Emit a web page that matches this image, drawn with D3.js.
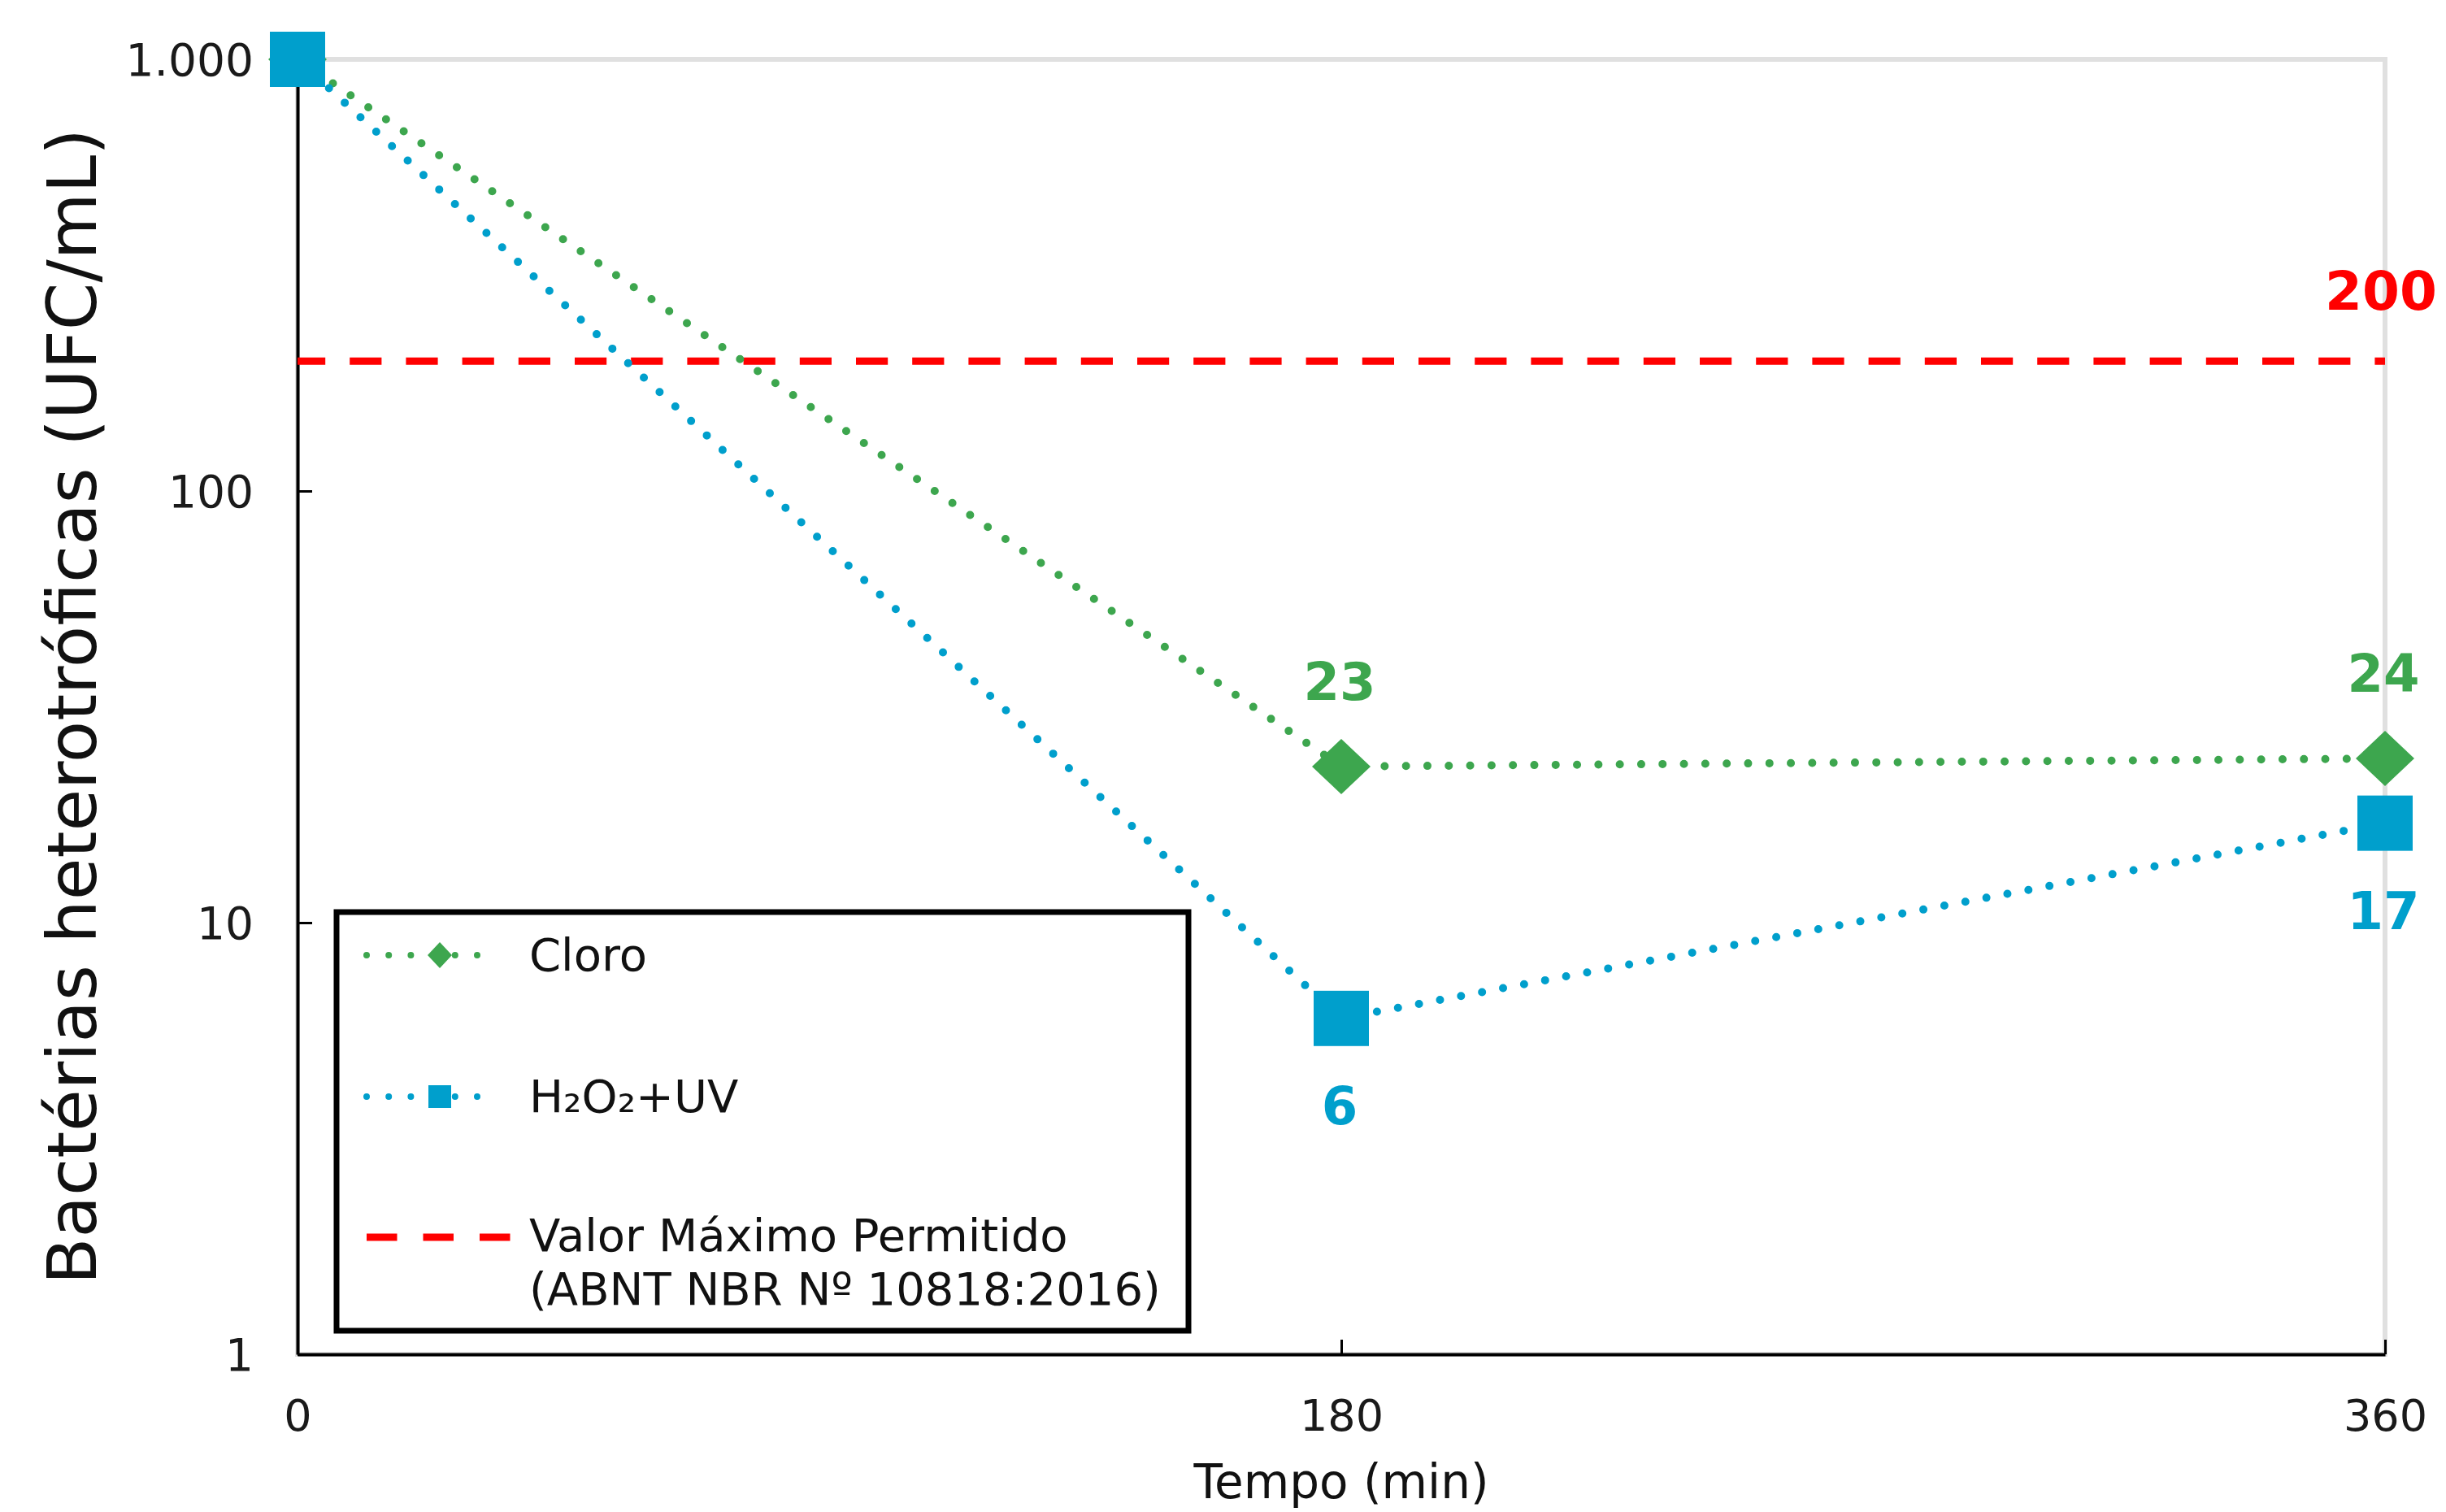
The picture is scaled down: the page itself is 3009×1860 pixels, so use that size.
<!DOCTYPE html>
<html>
<head>
<meta charset="utf-8">
<script src="https://cdn.jsdelivr.net/npm/d3@7"></script>
<style>
  html, body { margin: 0; padding: 0; background: #fff; }
  svg { display: block; }
  text { font-family: "DejaVu Sans", Verdana, sans-serif; }
</style>
</head>
<body>
<svg id="chart" width="3009" height="1860"></svg>
<script>
// ---- data ----
const tempos = [0, 180, 360];
const cloro = [1000, 23, 24];
const h2o2uv = [1000, 6, 17];
const limite = 200;
const yTicks = [1, 10, 100, 1000];
const yTickLabels = ["1", "10", "100", "1.000"];
const xTicks = [0, 180, 360];
const xTickLabels = ["0", "180", "360"];
const seriesNames = ["Cloro", "H₂O₂+UV"];
const limiteLabel = ["Valor Máximo Permitido", "(ABNT NBR Nº 10818:2016)"];
const xTitle = "Tempo (min)";
const yTitle = "Bactérias heterotróficas (UFC/mL)";

// ---- styles ----
const green = "#3DA64E";
const blue = "#009FCC";
const red = "#FF0000";

const svg = d3.select("#chart");
const L = 366, R = 2934, T = 73, B = 1666;
const x = d3.scaleLinear().domain([0, 360]).range([L, R]);
const y = d3.scaleLog().domain([1, 1000]).range([B, T]);

// gray frame
svg.append("rect").attr("x", L).attr("y", T).attr("width", R - L).attr("height", B - T)
  .attr("fill", "none").attr("stroke", "#e0e0e0").attr("stroke-width", 6);

// axes
const yAxis = d3.axisLeft(y).tickValues(yTicks)
  .tickFormat((d, i) => yTickLabels[i]).tickSizeInner(-18).tickSizeOuter(0).tickPadding(54);
const gy = svg.append("g").attr("transform", `translate(${L},0)`).call(yAxis);
gy.select(".domain").attr("stroke", "#000").attr("stroke-width", 4);
gy.selectAll(".tick line").attr("stroke", "#000").attr("stroke-width", 3);
gy.selectAll(".tick text").attr("font-size", 55).attr("fill", "#1a1a1a")
  .attr("font-family", "DejaVu Sans").attr("dy", "0.36em");

const xAxis = d3.axisBottom(x).tickValues(xTicks)
  .tickFormat((d, i) => xTickLabels[i]).tickSizeInner(-18).tickSizeOuter(0).tickPadding(56);
const gx = svg.append("g").attr("transform", `translate(0,${B})`).call(xAxis);
gx.select(".domain").attr("stroke", "#000").attr("stroke-width", 4);
gx.selectAll(".tick line").attr("stroke", "#000").attr("stroke-width", 3);
gx.selectAll(".tick text").attr("font-size", 54).attr("fill", "#1a1a1a")
  .attr("font-family", "DejaVu Sans");

// axis titles
svg.append("text").attr("transform", `translate(118,869) rotate(-90)`)
  .attr("text-anchor", "middle").attr("font-size", 84).attr("fill", "#111").text(yTitle);
svg.append("text").attr("x", x(180)).attr("y", 1843)
  .attr("text-anchor", "middle").attr("font-size", 58).attr("fill", "#111").text(xTitle);

// limit line
svg.append("line").attr("x1", x(0)).attr("x2", x(360)).attr("y1", y(limite)).attr("y2", y(limite))
  .attr("stroke", red).attr("stroke-width", 9).attr("stroke-dasharray", "39.2 30").attr("stroke-dashoffset", 5);
svg.append("text").attr("x", x(360) - 5).attr("y", y(limite) - 63)
  .attr("text-anchor", "middle").attr("font-size", 66).attr("font-weight", "bold").attr("fill", red).text(limite);

const line = d3.line().x((d, i) => x(tempos[i])).y(d => y(d));

function drawSeries(vals, color, marker) {
  svg.append("path").datum(vals).attr("d", line).attr("fill", "none")
    .attr("stroke", color).attr("stroke-width", 10).attr("stroke-linecap", "round")
    .attr("stroke-dasharray", "0 26.3");
  const g = svg.append("g");
  vals.forEach((v, i) => {
    const cx = x(tempos[i]), cy = y(v);
    if (marker === "diamond") {
      g.append("path").attr("d", `M${cx - 36},${cy} L${cx},${cy - 34} L${cx + 36},${cy} L${cx},${cy + 34} Z`).attr("fill", color);
    } else {
      g.append("rect").attr("x", cx - 34).attr("y", cy - 34).attr("width", 68).attr("height", 68).attr("fill", color);
    }
  });
}
drawSeries(cloro, green, "diamond");
drawSeries(h2o2uv, blue, "square");

// data labels
[1, 2].forEach(i => {
  svg.append("text").attr("x", x(tempos[i]) - 2).attr("y", y(cloro[i]) - 82)
    .attr("text-anchor", "middle").attr("font-size", 64).attr("font-weight", "bold").attr("fill", green).text(cloro[i]);
  svg.append("text").attr("x", x(tempos[i]) - 2).attr("y", y(h2o2uv[i]) + 130)
    .attr("text-anchor", "middle").attr("font-size", 64).attr("font-weight", "bold").attr("fill", blue).text(h2o2uv[i]);
});

// legend
const lg = svg.append("g");
lg.append("rect").attr("x", 414).attr("y", 1122).attr("width", 1048).attr("height", 515)
  .attr("fill", "#fff").attr("stroke", "#000").attr("stroke-width", 7);
const legRows = [
  { y: 1175, color: green, marker: "diamond", text: [seriesNames[0]], ty: 1194 },
  { y: 1349, color: blue, marker: "square", text: [seriesNames[1]], ty: 1368 },
  { y: 1522, color: red, marker: "dash", text: limiteLabel, ty: 1539 }
];
legRows.forEach(r => {
  if (r.marker === "dash") {
    lg.append("line").attr("x1", 451).attr("x2", 629).attr("y1", r.y).attr("y2", r.y)
      .attr("stroke", r.color).attr("stroke-width", 9).attr("stroke-dasharray", "37.5 32");
  } else {
    lg.append("line").attr("x1", 451).attr("x2", 614).attr("y1", r.y).attr("y2", r.y)
      .attr("stroke", r.color).attr("stroke-width", 8).attr("stroke-linecap", "round").attr("stroke-dasharray", "0 27.2");
    const cx = 541, cy = r.y;
    if (r.marker === "diamond") {
      lg.append("path").attr("d", `M${cx - 15},${cy} L${cx},${cy - 16} L${cx + 15},${cy} L${cx},${cy + 16} Z`).attr("fill", r.color);
    } else {
      lg.append("rect").attr("x", cx - 14).attr("y", cy - 14).attr("width", 28).attr("height", 28).attr("fill", r.color);
    }
  }
  r.text.forEach((t, k) => {
    lg.append("text").attr("x", 651).attr("y", r.ty + k * 66).attr("font-size", 56).attr("fill", "#111").text(t);
  });
});
</script>
</body>
</html>
